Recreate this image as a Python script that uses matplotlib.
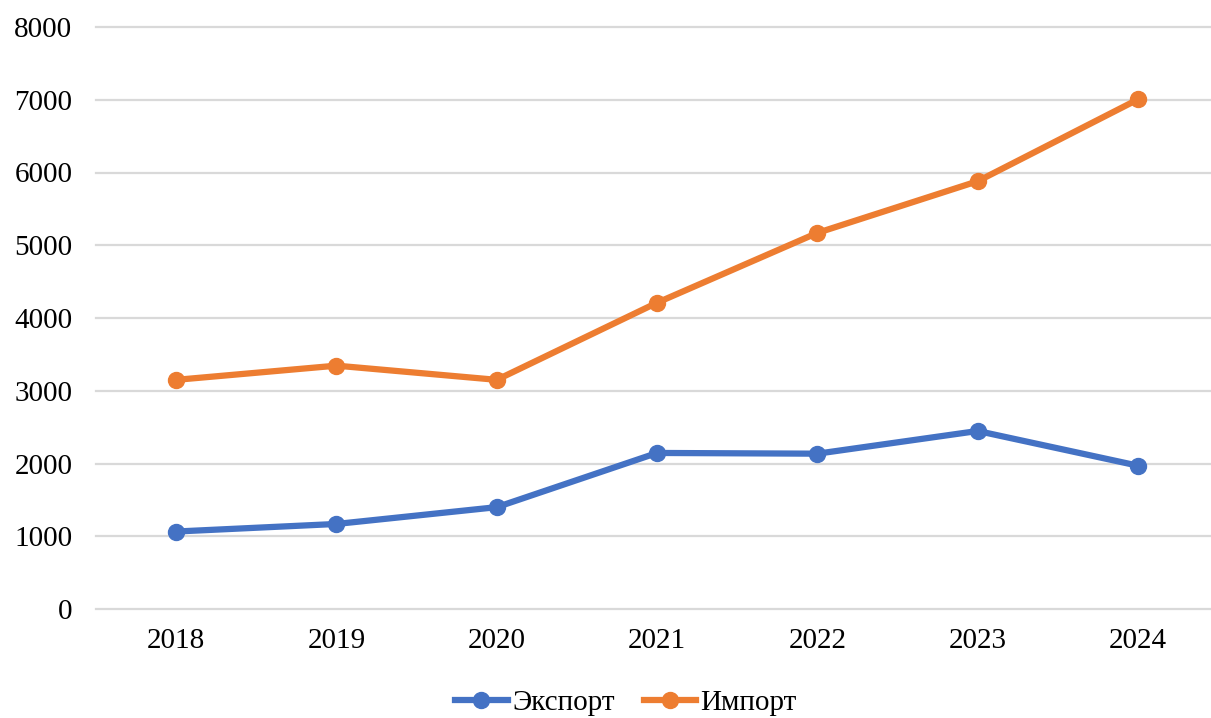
import matplotlib.pyplot as plt

# Data
years = ['2018', '2019', '2020', '2021', '2022', '2023', '2024']
export_vals = [1065, 1169, 1400, 2145, 2135, 2447, 1970]
import_vals = [3150, 3345, 3150, 4210, 5170, 5880, 7005]

plt.rcParams['font.family'] = ['Liberation Serif', 'DejaVu Serif']

fig = plt.figure(figsize=(12.11, 7.18), dpi=100)
ax = fig.add_axes([96 / 1211, 1 - 609 / 718, 1 - 96 / 1211, (609 - 27) / 718])

x = range(len(years))
ax.plot(x, export_vals, color='#4472C4', lw=4.5, marker='o', ms=11.5, label='Экспорт')
ax.plot(x, import_vals, color='#ED7D31', lw=4.5, marker='o', ms=11.5, label='Импорт')

ax.set_ylim(0, 8000)
ax.set_xlim(-0.5, 6 + (1211 - 1138) / 160.3)
ax.set_yticks(range(0, 8001, 1000))
ax.set_xticks(list(x))
ax.set_xticklabels(years)
ax.tick_params(length=0, labelsize=21, colors='black')
ax.tick_params(axis='y', pad=17)
ax.tick_params(axis='x', pad=14)
ax.grid(axis='y', color='#D9D9D9', lw=1.6)
for gl in ax.get_ygridlines():
    gl.set_clip_on(False)
ax.set_axisbelow(True)
for s in ax.spines.values():
    s.set_visible(False)

fig.legend(loc='center', bbox_to_anchor=(626 / 1211, 1 - 703 / 718), ncol=2,
           frameon=False, fontsize=21, handlelength=1.8, columnspacing=1.0,
           handletextpad=0.15)

fig.savefig('out.png', dpi=100)
